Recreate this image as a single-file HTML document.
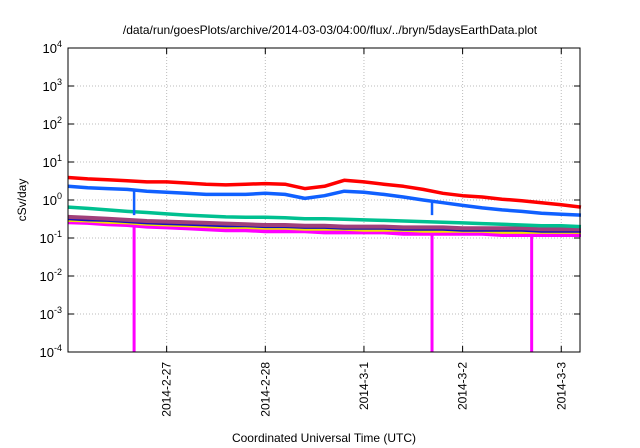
<!DOCTYPE html>
<html><head><meta charset="utf-8"><style>
body{margin:0;background:#fff;}
svg{display:block;font-family:"Liberation Sans",sans-serif;}
</style></head><body>
<svg id="chart" width="640" height="448" viewBox="0 0 640 448">
<text x="330" y="34" font-size="12" text-anchor="middle">/data/run/goesPlots/archive/2014-03-03/04:00/flux/../bryn/5daysEarthData.plot</text>
<text transform="translate(26,200) rotate(-90)" font-size="12" text-anchor="middle">cSv/day</text>
<text x="324" y="442" font-size="12" text-anchor="middle">Coordinated Universal Time (UTC)</text>
<g id="grid"></g><g id="series"></g><g id="axes"></g>
</svg>
<script>
const days=[0,0.2,0.4,0.6,0.8,1.0,1.2,1.4,1.6,1.8,2.0,2.2,2.4,2.6,2.8,3.0,3.2,3.4,3.6,3.8,4.0,4.2,4.4,4.6,4.8,5.0,5.2];
const red=[3.9,3.6,3.4,3.2,3.0,3.0,2.8,2.6,2.5,2.6,2.7,2.6,2.0,2.3,3.3,3.0,2.6,2.3,1.9,1.5,1.3,1.2,1.05,0.95,0.85,0.75,0.65];
const blue=[2.3,2.1,2.0,1.9,1.7,1.6,1.5,1.4,1.4,1.4,1.5,1.4,1.1,1.3,1.7,1.6,1.4,1.2,1.0,0.85,0.72,0.62,0.55,0.5,0.45,0.42,0.4];
const teal=[0.65,0.6,0.55,0.5,0.47,0.43,0.4,0.38,0.36,0.35,0.35,0.34,0.32,0.32,0.31,0.3,0.29,0.28,0.27,0.26,0.25,0.24,0.23,0.22,0.21,0.21,0.2];
const purple=[0.36,0.34,0.32,0.3,0.28,0.27,0.26,0.25,0.24,0.23,0.22,0.22,0.21,0.21,0.2,0.2,0.2,0.19,0.19,0.19,0.18,0.18,0.18,0.18,0.17,0.17,0.17];
const navy=[0.32,0.3,0.29,0.27,0.25,0.24,0.23,0.22,0.21,0.21,0.2,0.2,0.19,0.19,0.18,0.18,0.18,0.17,0.17,0.17,0.16,0.16,0.16,0.16,0.15,0.15,0.15];
const yellow=[0.29,0.28,0.26,0.25,0.23,0.22,0.21,0.2,0.19,0.19,0.18,0.18,0.17,0.17,0.17,0.16,0.16,0.16,0.15,0.15,0.15,0.15,0.14,0.14,0.14,0.14,0.14];
const magenta=[0.26,0.25,0.23,0.22,0.2,0.19,0.18,0.17,0.16,0.16,0.15,0.15,0.15,0.14,0.14,0.14,0.14,0.13,0.13,0.13,0.13,0.13,0.12,0.12,0.12,0.12,0.12];
const magentaDrops=[0.67,3.69,4.7];
const blueDrops=[0.67,3.69];
const blueDropValue=0.4;
const yTicks=[-4,-3,-2,-1,0,1,2,3,4];
const xTickDays=[1,2,3,4,5];
const xTickLabels=["2014-2-27","2014-2-28","2014-3-1","2014-3-2","2014-3-3"];
const L=68,R=580,T=48,B=352,D0=0,D1=5.19;
const NS="http://www.w3.org/2000/svg";
function X(d){return L+(d-D0)/(D1-D0)*(R-L);}
function Y(v){return B-(Math.log10(v)+4)/8*(B-T);}
function mk(tag,attrs,parent){const e=document.createElementNS(NS,tag);for(const k in attrs)e.setAttribute(k,attrs[k]);parent.appendChild(e);return e;}
const grid=document.getElementById('grid'),ser=document.getElementById('series'),ax=document.getElementById('axes');
yTicks.forEach(p=>{const y=Y(Math.pow(10,p));
 if(p>-4&&p<4){const g=mk('line',{x1:L,x2:R,y1:y,y2:y,stroke:'#bbb','stroke-dasharray':'1,2'},grid);}
 const t=mk('line',{x1:L,x2:L+6,y1:y,y2:y,stroke:'#000'},ax);
 const t2=mk('line',{x1:R-6,x2:R,y1:y,y2:y,stroke:'#000'},ax);
 const tx=mk('text',{x:L-6,y:y+5,'font-size':13,'text-anchor':'end'},ax);
 
 tx.appendChild(document.createTextNode('10'));
 const s=mk('tspan',{'font-size':9,dy:-6},tx);s.textContent=String(p);
});
xTickDays.forEach((d,i)=>{const x=X(d);
 const g=mk('line',{x1:x,x2:x,y1:T,y2:B,stroke:'#bbb','stroke-dasharray':'1,2'},grid);
 const t=mk('line',{x1:x,x2:x,y1:B-6,y2:B,stroke:'#000'},ax);
 const t2=mk('line',{x1:x,x2:x,y1:T,y2:T+6,stroke:'#000'},ax);
 const tx=mk('text',{transform:`translate(${x+4},${B+10}) rotate(-90)`,'font-size':12,'text-anchor':'end'},ax);
 tx.textContent=xTickLabels[i];
});
function line(vals,color,name,w){
 const pts=days.map((d,i)=>X(d).toFixed(1)+','+Y(vals[i]).toFixed(1)).join(' ');
 const p=mk('polyline',{points:pts,fill:'none',stroke:color,'stroke-width':w,'stroke-linejoin':'round'},ser);
 
}
function interp(vals,d){for(let i=0;i<days.length-1;i++){if(d>=days[i]&&d<=days[i+1]){const f=(d-days[i])/(days[i+1]-days[i]);return vals[i]*(1-f)+vals[i+1]*f;}}return vals[vals.length-1];}
line(magenta,'#ff00ff','series-magenta',4);
line(yellow,'#f0e000','series-yellow',3);
line(navy,'#1010c0','series-navy',3);
line(purple,'#a0407a','series-purple',4);
line(teal,'#00c090','series-teal',3.5);
line(blue,'#1060ff','series-blue',3.5);
line(red,'#ff0000','series-red',3.5);
magentaDrops.forEach(d=>{const x=X(d);const l=mk('line',{x1:x,x2:x,y1:Y(interp(magenta,d)),y2:B,stroke:'#ff00ff','stroke-width':3},ser);
 });
blueDrops.forEach(d=>{const x=X(d);const l=mk('line',{x1:x,x2:x,y1:Y(interp(blue,d)),y2:Y(blueDropValue),stroke:'#1060ff','stroke-width':2.5},ser);
 });
const fr=mk('rect',{x:L,y:T,width:R-L,height:B-T,fill:'none',stroke:'#000','stroke-width':1},ax);

</script>
</body></html>
